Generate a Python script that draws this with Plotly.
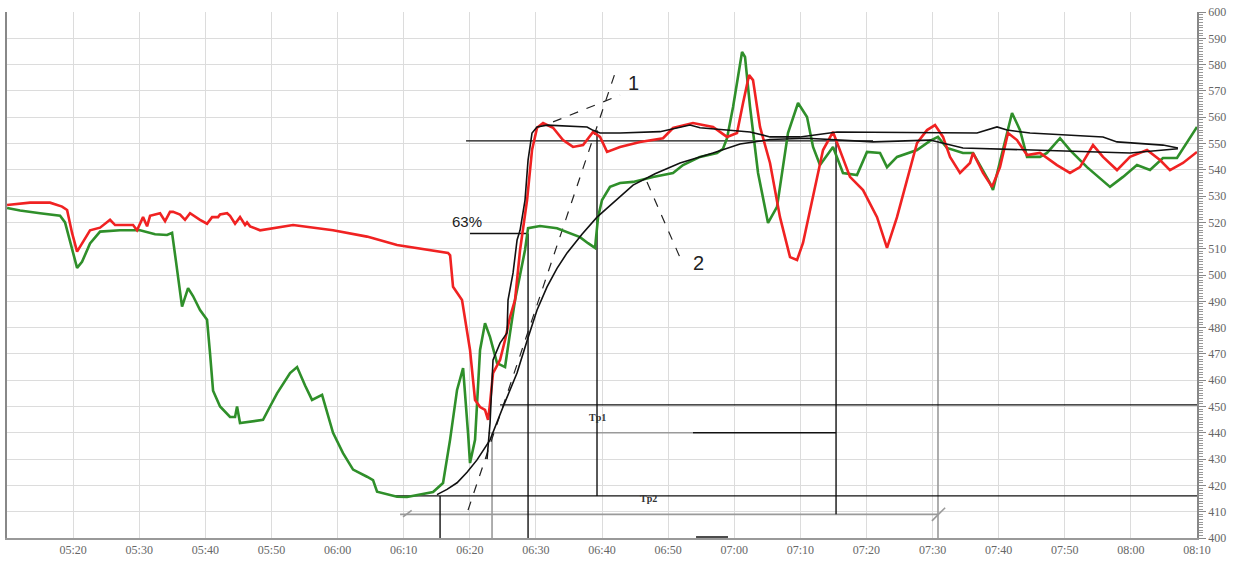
import pandas as pd
import plotly.graph_objects as go

# time values are minutes after midnight
red = [(310.0, 526.6), (313.48, 527.5), (316.50, 527.5), (318.32, 526), (319.08, 524.7), (319.83, 516),
       (320.59, 508.9), (321.34, 512), (322.55, 517), (324.07, 518), (325.58, 521), (326.34, 519),
       (329.06, 519), (329.66, 517), (330.57, 522), (331.18, 518.5), (331.63, 522.5), (332.39, 523),
       (333.14, 523.5), (333.90, 520.5), (334.65, 524), (335.11, 524), (336.17, 523), (336.92, 521),
       (337.68, 523.5), (339.19, 521), (340.25, 519.5), (341.01, 522), (341.92, 522), (342.22, 523),
       (343.28, 523.5), (343.73, 522.5), (344.49, 519.5), (345.24, 522), (346.00, 519), (346.30, 520),
       (346.76, 518.5), (348.27, 517), (353.26, 519), (359.31, 517), (364.45, 514.6), (368.99, 511.4),
       (372.47, 510), (376.71, 508.4), (377.02, 507.5), (377.46, 495.5), (378.82, 490.5), (380.03, 471.5),
       (380.79, 452.5), (381.55, 449.8), (382.30, 448.7), (382.76, 444.9), (383.06, 451.3), (383.51, 462.7),
       (384.57, 467.7), (385.33, 475.3), (386.08, 484), (386.84, 490.5), (387.60, 509.5), (388.66, 528.5),
       (389.41, 547.5), (390.17, 556), (391.08, 557.8), (392.59, 556), (394.10, 551.3), (395.61, 548.7),
       (397.13, 549.4), (398.64, 554.4), (399.70, 552.5), (400.76, 546.8), (402.72, 548.7), (405.75, 550.6),
       (409.23, 552), (410.74, 555.9), (413.76, 557.8), (416.79, 556.3), (418.91, 552.5), (420.42, 554),
       (421.33, 565.4), (422.24, 576), (422.84, 574.1), (423.90, 556.3), (425.41, 542.6), (426.92, 522),
       (428.44, 506.8), (429.50, 505.7), (430.40, 512.2), (431.91, 529.7), (433.43, 547.5), (434.94, 554.4),
       (436.00, 547.5), (437.51, 537.3), (439.48, 532.3), (441.60, 522), (443.11, 510.3), (444.62, 522),
       (446.13, 536.1), (447.65, 550.2), (449.16, 555.1), (450.37, 557), (451.58, 552.5), (452.64, 544.9),
       (454.15, 538.8), (455.66, 542.6), (456.12, 546.4), (457.63, 538.8), (458.99, 533.5), (460.20, 541),
       (461.41, 554), (462.77, 551.3), (464.29, 545.6), (466.25, 546.4), (468.82, 541.8), (470.79, 538.8),
       (472.30, 541), (474.27, 549.4), (475.78, 544.9), (477.90, 539.9), (479.86, 544.9), (482.44, 547.5),
       (484.40, 543.7), (485.91, 539.9), (487.88, 542.6), (490.00, 546.8)]

green = [(310.0, 525.5), (311.97, 524.5), (314.99, 523.5), (318.02, 522.5), (318.77, 520), (319.83, 510),
         (320.59, 502.7), (321.34, 505), (322.55, 512), (324.07, 516.5), (327.09, 517), (330.12, 517),
         (332.39, 515.5), (334.20, 515.2), (334.96, 516), (335.56, 505), (336.47, 488), (337.38, 495),
         (338.13, 492), (339.19, 486.7), (340.25, 483), (340.71, 470), (341.16, 456), (342.22, 450),
         (343.73, 446), (344.49, 446), (344.79, 450), (345.24, 443.7), (348.72, 444.9), (349.78, 450),
         (350.84, 455), (352.81, 462.7), (353.87, 465), (355.08, 458), (356.13, 452.5), (357.65, 454.4),
         (359.31, 440), (360.82, 432.3), (362.34, 426), (364.45, 423.3), (365.36, 422), (365.97, 417.6),
         (368.99, 415.7), (370.50, 415.6), (374.44, 417.5), (375.95, 420.9), (377.01, 437.3), (378.07, 456.3),
         (378.98, 464.6), (379.73, 440), (380.03, 428.5), (380.79, 437.3), (381.55, 471.5), (382.30, 481.7),
         (383.06, 476.4), (384.12, 466.5), (385.33, 465), (386.08, 477.9), (386.84, 490.5), (387.60, 500),
         (388.35, 509.5), (388.81, 517.8), (390.62, 518.6), (393.19, 517.8), (394.71, 516.4), (396.67, 514.4),
         (397.88, 512.1), (398.94, 510.3), (399.40, 522), (400.00, 528.5), (401.21, 533.5), (402.72, 535),
         (404.69, 535.4), (407.71, 537.3), (410.74, 538.8), (412.25, 541.8), (414.82, 544.9), (417.39, 546.4),
         (418.30, 548), (418.91, 552), (419.82, 563.9), (421.18, 584.8), (421.63, 582.9), (422.39, 563.9),
         (423.60, 538.8), (425.11, 519.8), (426.47, 525.9), (428.13, 554), (429.65, 565.4), (431.01, 560.1),
         (431.92, 548.7), (432.97, 541.8), (434.94, 548.7), (436.45, 538.8), (438.57, 538), (440.08, 546.8),
         (442.05, 546.4), (443.11, 541), (444.62, 544.9), (447.65, 547.5), (449.61, 551), (450.82, 552.5),
         (452.18, 548.3), (454.60, 546.4), (456.12, 546.4), (458.69, 535), (459.14, 532.3), (460.50, 546.4),
         (462.02, 561.6), (463.23, 555.1), (464.29, 544.9), (466.25, 544.9), (467.31, 546.4), (469.28, 552),
         (470.79, 547.5), (473.36, 541), (476.84, 533.5), (478.81, 537.3), (480.92, 541.8), (482.89, 539.9),
         (484.85, 544.5), (486.97, 544.5), (488.49, 550.2), (490.00, 556.3)]

curve1 = [(382.60, 430), (383.06, 443.7), (383.51, 467.7), (384.57, 474.1), (385.63, 478), (385.78, 490.5),
          (386.54, 500.8), (387.15, 513.3), (387.60, 517), (388.35, 528.5), (388.81, 543.7), (389.41, 554),
          (390.17, 556.3), (391.68, 557), (397.73, 556.3), (398.64, 555), (399.70, 554), (402.72, 554),
          (408.77, 554.5), (413.31, 557), (414.82, 556), (422.39, 554.4), (425.41, 552.5), (429.95, 552.5),
          (435.55, 554.4), (448.55, 554), (456.72, 554), (459.75, 556.3), (461.26, 555.1), (464.74, 554),
          (475.78, 552.5), (477.90, 550.6), (484.85, 549.4), (487.12, 548.3)]

curve2 = [(375.04, 416.5), (376.55, 418.5), (378.07, 421), (379.58, 425), (381.09, 429.7), (383.06, 437.3),
          (385.02, 449.8), (387.14, 462.7), (388.66, 475), (390.17, 486.7), (391.68, 495.5), (393.19, 502.5),
          (394.71, 508.4), (396.97, 515.5), (399.24, 522), (402.72, 529.7), (404.69, 534.2), (408.02, 538.5),
          (411.80, 542.6), (416.79, 546.4), (420.87, 549.8), (425.41, 551.5), (431.01, 552), (440.99, 550.6),
          (449.61, 551.3), (454.60, 548.3), (464.74, 547.5), (479.86, 546.4), (487.12, 548)]

# guide segments: (t0, v0, t1, v1)
black_guides = [(379.43, 551, 441.0, 551),      # steady-state level
                (380.03, 515.8, 388.81, 515.8),  # 63% level
                (388.81, 515.8, 388.81, 400),
                (399.24, 555, 399.24, 416),
                (435.40, 551, 435.40, 409),
                (375.50, 416, 375.50, 400),
                (384.57, 450.6, 490, 450.6),     # Tp1
                (413.76, 440, 435.40, 440),
                (368.69, 416, 490, 416),         # Tp2
                (414.22, 400.4, 419.06, 400.4)]
gray_guides = [(382.76, 440, 413.76, 440),
               (383.36, 440, 383.36, 400),
               (450.82, 552, 450.82, 400),
               (369.45, 409, 450.82, 409),
               (369.9, 408, 371.2, 410.5),
               (449.9, 406.5, 451.9, 411.5)]
dashed_guides = [(379.73, 410.6, 401.97, 576.8),
                 (392.59, 558.2, 402.72, 568.4),
                 (406.8, 535.4, 412.1, 504.9)]

labels = [("1", 404.69, 573), ("2", 414.52, 504.6), ("63%", 379.58, 520.2)]
tp_labels = [("Tp1", 399.25, 446), ("Tp2", 406.96, 415)]

x_start, x_end = 309.99, 490
x_tick0 = 310
y_min, y_max = 400, 600

base = pd.Timestamp("2000-01-01")


def T(m):
    return base + pd.to_timedelta(m, unit="min")


def seg_trace(segs, color, width, dash="solid"):
    xs, ys = [], []
    for t0, v0, t1, v1 in segs:
        xs += [T(t0), T(t1), None]
        ys += [v0, v1, None]
    return go.Scatter(x=xs, y=ys, mode="lines", line=dict(color=color, width=width, dash=dash),
                      hoverinfo="skip", showlegend=False)


fig = go.Figure()
fig.add_trace(seg_trace(gray_guides, "#9a9a9a", 1.6))
fig.add_trace(seg_trace(black_guides, "#111111", 1.4))
fig.add_trace(seg_trace(dashed_guides, "#222222", 1.2, "dash"))

for data, color in [(green, "#2f8f2a"), (red, "#f02222")]:
    fig.add_trace(go.Scatter(x=T([p[0] for p in data]), y=[p[1] for p in data], mode="lines",
                             line=dict(color=color, width=2.6), showlegend=False))

for data in (curve1, curve2):
    fig.add_trace(go.Scatter(x=T([p[0] for p in data]), y=[p[1] for p in data], mode="lines",
                             line=dict(color="#111111", width=1.6), showlegend=False))

for txt, t, v in labels:
    fig.add_annotation(x=T(t), y=v, text=txt, showarrow=False,
                       font=dict(family="Liberation Sans, Arial", size=20 if len(txt) == 1 else 15,
                                 color="#222222"))
for txt, t, v in tp_labels:
    fig.add_annotation(x=T(t), y=v, text="<b>" + txt + "</b>", showarrow=False,
                       font=dict(family="Liberation Serif, Times New Roman", size=10, color="#333333"))

tickfont = dict(family="Liberation Serif, Times New Roman", size=12, color="#666666")
fig.update_layout(
    width=1245, height=562,
    margin=dict(l=7, r=48, t=12, b=24),
    paper_bgcolor="white", plot_bgcolor="white",
    showlegend=False,
    xaxis=dict(type="date", range=[T(x_start), T(x_end)], tick0=T(x_tick0), dtick=600000,
               tickformat="%H:%M", showgrid=True, gridcolor="#dcdcdc", gridwidth=1,
               showline=True, linecolor="#999999", linewidth=1.5, ticks="", tickfont=tickfont,
               zeroline=False, automargin=False),
    yaxis=dict(side="right", range=[y_min, y_max], dtick=10, showgrid=True, gridcolor="#dcdcdc",
               gridwidth=1, showline=True, linecolor="#888888", linewidth=1.5, mirror=True,
               ticks="outside", ticklen=7, tickcolor="#888888", tickfont=tickfont, zeroline=False,
               automargin=False,
               minor=dict(dtick=1, ticks="outside", ticklen=4, tickcolor="#999999", showgrid=False)),
)

fig.write_html("out.html", config={"displayModeBar": False},
               post_script="document.body.style.margin='0';document.body.style.overflow='hidden';")
